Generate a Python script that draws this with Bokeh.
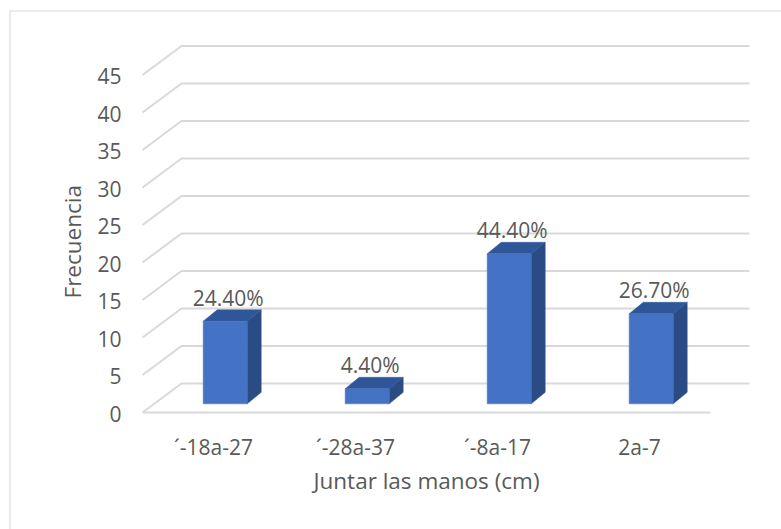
from bokeh.plotting import figure
from bokeh.models import Range1d, ColumnDataSource
from bokeh.core.properties import value
from bokeh.embed import file_html
from bokeh.resources import INLINE

# ---- data -------------------------------------------------------------
categories = ["´-18a-27", "´-28a-37", "´-8a-17", "2a-7"]
frequencies = [11, 2, 20, 12]
percent_labels = ["24.40%", "4.40%", "44.40%", "26.70%"]
y_ticks = [0, 5, 10, 15, 20, 25, 30, 35, 40, 45]
y_title = "Frecuencia"
x_title = "Juntar las manos (cm)"

# ---- geometry of the pseudo-3D box ------------------------------------
W, H = 781, 529
CAT_PX = 142.0        # pixels per category along the front edge
UNIT_PX = 7.5         # pixels per frequency unit
FLOOR_LEFT_PX = 142.0 # screen x of the front-left floor corner
FLOOR_PX = 412.0      # screen y (from top) of the front floor edge

x_start = -0.5 - FLOOR_LEFT_PX / CAT_PX
x_end = x_start + W / CAT_PX
y_end = FLOOR_PX / UNIT_PX
y_start = y_end - H / UNIT_PX


def px_x(px):
    return x_start + px / CAT_PX


def px_y(py):
    return y_end - py / UNIT_PX


# back wall offset (depth of the whole box)
DX = 39 / CAT_PX
DY = 29 / UNIT_PX
# bar placement in depth
BAR_FRONT = 0.30
BAR_DX = 14 / CAT_PX
BAR_DY = 11.5 / UNIT_PX
BAR_W = 44 / CAT_PX

FONT = "Open Sans"
TEXT_COLOR = "#595959"
GRID_COLOR = "#d9d9d9"

n = len(categories)
left_edge, right_edge = -0.5, n - 0.5

p = figure(width=W, height=H, output_backend="svg", toolbar_location=None,
           x_range=Range1d(x_start, x_end), y_range=Range1d(y_start, y_end),
           min_border=0, outline_line_color=None)
p.axis.visible = False
p.xgrid.visible = False
p.ygrid.visible = False
p.background_fill_color = "white"
p.border_fill_color = "white"

# chart border (left and top edges visible in the window)
p.line(x=[px_x(9.5), px_x(9.5), px_x(W + 20)],
       y=[px_y(H + 20), px_y(10.5), px_y(10.5)],
       line_color=GRID_COLOR, line_width=1.2)

# gridlines: left wall diagonal + back wall horizontal
grid_xs = [[left_edge, left_edge + DX, right_edge + DX] for _ in y_ticks]
grid_ys = [[v, v + DY, v + DY] for v in y_ticks]
p.multi_line(xs=grid_xs, ys=grid_ys, line_color=GRID_COLOR, line_width=2)
# front edge of the floor
p.line(x=[left_edge, right_edge], y=[0, 0], line_color=GRID_COLOR, line_width=2)

# ---- bars ---------------------------------------------------------------
cx = [i + BAR_FRONT * DX for i in range(n)]
fb = BAR_FRONT * DY
fl = [c - BAR_W / 2 for c in cx]
fr = [c + BAR_W / 2 for c in cx]
ft = [v + fb for v in frequencies]

side_xs = [[r, r + BAR_DX, r + BAR_DX, r] for r in fr]
side_ys = [[fb, fb + BAR_DY, t + BAR_DY, t] for t in ft]
top_xs = [[l, l + BAR_DX, r + BAR_DX, r] for l, r in zip(fl, fr)]
top_ys = [[t, t + BAR_DY, t + BAR_DY, t] for t in ft]

p.patches(xs=side_xs, ys=side_ys, fill_color="#2B4B85", line_color="#2B4B85", line_width=0.5)
p.patches(xs=top_xs, ys=top_ys, fill_color="#30569A", line_color="#30569A", line_width=0.5)
p.quad(left=fl, right=fr, bottom=[fb] * n, top=ft,
       fill_color="#4472C4", line_color="#4472C4", line_width=0.5)

# value labels above bars
lab_src = ColumnDataSource(dict(x=cx, y=[t + BAR_DY for t in ft], text=percent_labels))
p.text(x="x", y="y", text="text", source=lab_src, x_offset=3, y_offset=-12,
       text_align="center", text_baseline="alphabetic",
       text_font=value(FONT), text_font_size="21px", text_color=TEXT_COLOR)

# ---- axis labels ----------------------------------------------------------
tick_src = ColumnDataSource(dict(x=[left_edge] * len(y_ticks), y=y_ticks,
                                 text=[str(v) for v in y_ticks]))
p.text(x="x", y="y", text="text", source=tick_src, x_offset=-21, y_offset=1,
       text_align="right", text_baseline="alphabetic",
       text_font=value(FONT), text_font_size="21px", text_color=TEXT_COLOR)

cat_src = ColumnDataSource(dict(x=list(range(n)), y=[0] * n, text=categories))
p.text(x="x", y="y", text="text", source=cat_src, y_offset=34,
       text_align="center", text_baseline="alphabetic",
       text_font=value(FONT), text_font_size="21px", text_color=TEXT_COLOR)

p.text(x=[(left_edge + right_edge) / 2], y=[0], text=[x_title], y_offset=68,
       text_align="center", text_baseline="alphabetic",
       text_font=value(FONT), text_font_size="22.5px", text_color=TEXT_COLOR)

p.text(x=[left_edge], y=[max(y_ticks) / 2], text=[y_title], x_offset=-70, y_offset=-2,
       angle=1.5707963, text_align="center", text_baseline="alphabetic",
       text_font=value(FONT), text_font_size="22.5px", text_color=TEXT_COLOR)

open("out.html", "w").write(file_html(p, INLINE))
